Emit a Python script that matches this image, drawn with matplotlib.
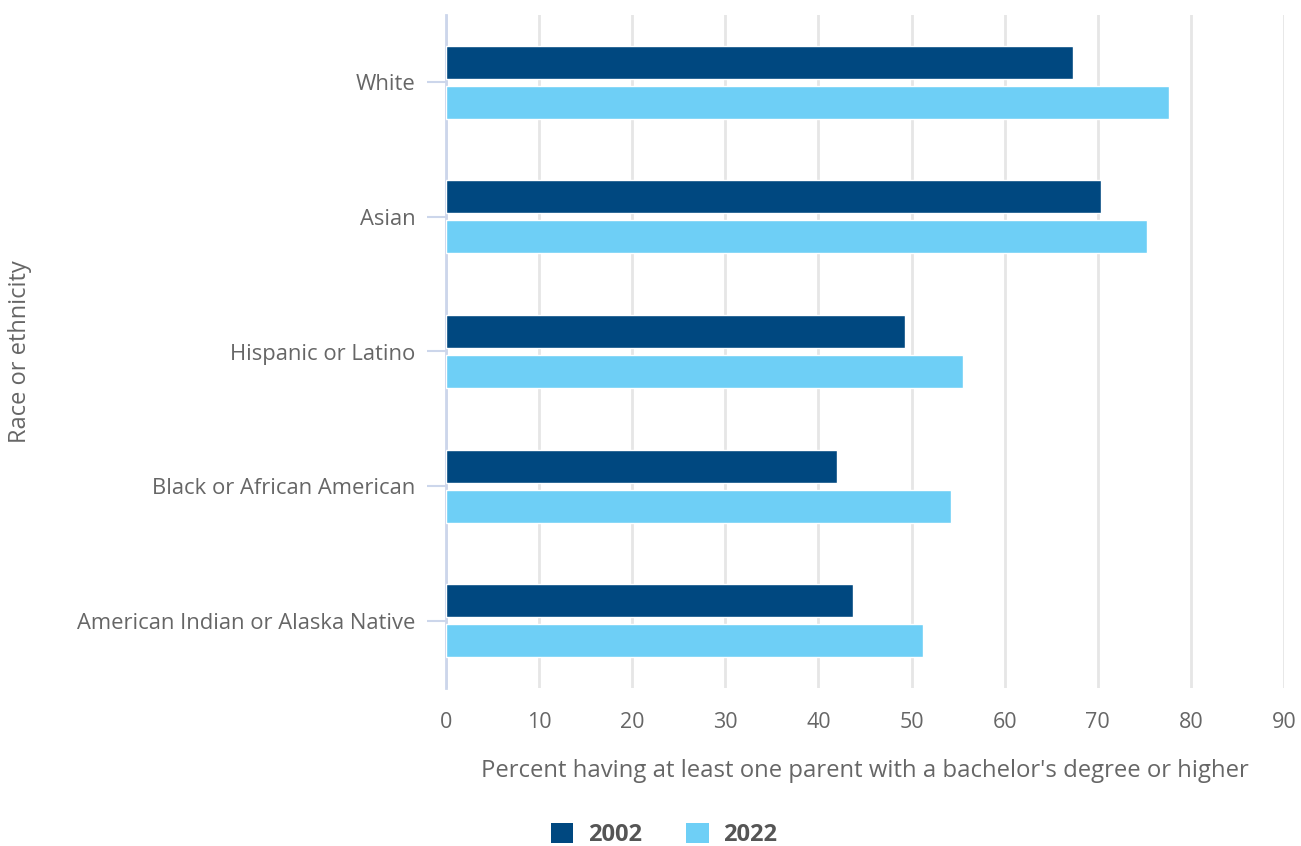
import numpy as np
import matplotlib.pyplot as plt
from matplotlib.patches import Patch

plt.rcParams['font.family'] = ['Open Sans', 'DejaVu Sans']

# data
categories = ['White', 'Asian', 'Hispanic or Latino', 'Black or African American',
              'American Indian or Alaska Native']
years = ['2002', '2022']
pct_2002 = [67.3, 70.3, 49.3, 42.0, 43.7]
pct_2022 = [77.6, 75.3, 55.5, 54.2, 51.2]
xticks = [0, 10, 20, 30, 40, 50, 60, 70, 80, 90]

dark = '#004880'
light = '#6ecff6'
grey_txt = '#666666'

fig = plt.figure(figsize=(13.01, 8.46), dpi=100)
ax = fig.add_axes([446 / 1301, 1 - 688 / 846, (1284 - 446) / 1301, (688 - 15) / 846])

y = np.arange(len(categories))
h = 0.245
off = 0.149
ax.barh(y - off, pct_2002, height=h, color=dark, edgecolor='white', linewidth=1, zorder=3)
ax.barh(y + off, pct_2022, height=h, color=light, edgecolor='white', linewidth=1, zorder=3)

ax.set_xlim(0, 90)
ax.set_ylim(len(categories) - 0.5, -0.5)
ax.set_xticks(xticks)
ax.set_xticklabels([str(t) for t in xticks])
ax.set_yticks(y)
ax.set_yticklabels(categories)
ax.xaxis.grid(True, color='#e6e6e6', linewidth=2, zorder=0)
ax.set_axisbelow(True)

for s in ['top', 'right', 'bottom']:
    ax.spines[s].set_visible(False)
ax.spines['left'].set_color('#ccd6eb')
ax.spines['left'].set_linewidth(2)

ax.tick_params(axis='x', length=0, pad=17, labelsize=15.5, labelcolor=grey_txt)
ax.tick_params(axis='y', length=14, width=1.5, color='#ccd6eb', pad=8,
               labelsize=15.8, labelcolor=grey_txt)

ax.set_xlabel("Percent having at least one parent with a bachelor's degree or higher",
              fontsize=17.2, color=grey_txt, labelpad=19)
fig.text(20 / 1301, 1 - 352 / 846, 'Race or ethnicity', rotation=90, fontsize=17,
         color=grey_txt, ha='center', va='center')

handles = [Patch(facecolor=dark), Patch(facecolor=light)]
fig.legend(handles, years, loc='center', bbox_to_anchor=(664 / 1301, 1 - 835 / 846),
           ncol=2, frameon=False, prop={'weight': 'bold', 'size': 17},
           labelcolor='#555555', handlelength=0.95, handleheight=0.95,
           columnspacing=1.9, handletextpad=0.6)

fig.savefig('out.png', dpi=100)
